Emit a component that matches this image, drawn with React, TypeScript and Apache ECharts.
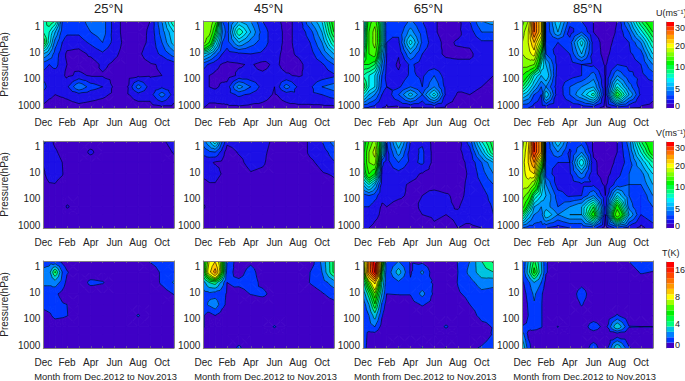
import React, { useEffect, useRef } from "react";
import * as echarts from "echarts";

const months = ["Dec","Jan","Feb","Mar","Apr","May","Jun","Jul","Aug","Sep","Oct","Nov"];
const columnsX = [0,0.5,1,1.6,2,3,4,5,6,7,8,9,10,11];
const pressures = [0.6,1.6,4,11,28,74,200,400,1300];
const pressureTicks = [1,10,100,1000];
const latitudes = ["25°N","45°N","65°N","85°N"];

const windEdges = [0,1,2,3,4,5,6,7,8,9,10,12,14,16,18,20,22,24,26,28,Infinity];
const windColors = ["#3f00c6","#1c10e6","#0038ff","#0068ff","#0098ff","#00c4ff","#00ecff","#00ffc0","#00ff80","#00ff40","#00f800","#40ff00","#80ff00","#c0ff00","#ffff00","#ffd000","#ffa000","#ff7000","#ff4000","#ff0000"];
const windBarLabels = ["0","","","","5","","","","","10","","","","","20","","","","30",""];
const tempEdges = [0,1,2,3,4,4.8,5.6,6.4,7.2,8,9.6,11.2,12.8,14.4,16,17.6,Infinity];
const tempColors = ["#3f00c6","#0038ff","#0080ff","#00c4e0","#00ff80","#00ff40","#00f000","#40ff00","#a0ff00","#ffff00","#ffc800","#ff9800","#ff7000","#ff4800","#ff2000","#ff0000"];
const tempBarLabels = ["0","","","","4","","","","","8","","","","","16",""];

const u25 = [[7,8,10,5,2.5,1.6,2.5,1.5,.8],[9,7,6.5,4,2,1.3,1.5,1.2,.6],[8,5,3.5,2.5,2.5,1.2,1.2,1,.6],[3,2.5,2,1.5,1.2,1.2,1.3,1.1,.6],[2.5,2.2,1.5,.8,1,.8,1.8,1.2,.6],[2.5,2.2,1.5,.6,.7,1.2,4,1.6,.7],[3.5,3,2.2,1.2,.5,.9,2.5,1.4,.6],[3.5,3.5,3,1.8,1.2,.9,2,1.2,.5],[1.5,1.5,1.6,1.2,.8,.7,.8,.8,.3],[.5,.5,.6,.6,.5,.6,.7,.8,.3],[.5,.5,.6,.8,.7,.8,3.5,1.6,.4],[1,1.2,1.2,1.5,.9,.9,1.5,1.5,.5],[4,3.5,3,2.2,1.1,1,1.8,3.5,.7],[8,6,5.5,3.5,1.5,1.2,1.5,1.5,.7]];
const u45 = [[16,15,15,6,2.5,1.3,1.5,2,1],[16,15,12,5,1.8,1,1,1.5,.7],[13,10,7,3.5,1.3,.8,.8,1.5,.7],[3,4,3,2,.9,.7,1.2,1.7,.7],[2.5,2.5,2.5,1.5,.8,.5,1.4,1.5,.8],[5,8,5,1.8,.9,1.2,4.5,2.2,.8],[4,5,3.5,2,1.1,1.2,3,1.8,.7],[2,2.5,2.5,1.8,.7,1.2,1.6,1.4,.7],[1.2,1.4,1.4,1.2,1.2,1.3,1,.9,.6],[.8,.8,.8,.8,.7,1.1,3.5,1.4,.7],[1.2,1.2,1.2,1.1,.8,.9,1.8,1.8,.7],[4,2.5,2,1.5,1.3,1.2,1.8,1.8,.7],[6,5,4,3,1.8,1.4,3,2,.7],[11,10,8,5,3,1.8,3.5,2.5,.7]];
const u65 = [[5,5.5,6,8,10,8,10,7,2],[11,12,12,12,10,7,7,5,1.8],[13,15,15,13,9,6,6,4,1.5],[7,7,7,5,4,3,2.5,2,1],[2,2,2,2,1.8,1.6,2,1.3,.9],[2,2.2,1.8,1.1,.8,1.2,1.8,3,.8],[3.2,4.5,6.5,4,2.2,2.2,3,5.5,.9],[2,2.5,2.8,2,1.5,1.8,2,3,.9],[1.1,1.1,1.3,1.2,1.4,3,4,6.5,1],[.7,.7,.8,.9,1.2,1.4,1.6,1.7,.8],[.7,.8,1.1,.8,1.2,1.2,1.2,.9,.7],[2,1.5,1.2,.8,1.2,1.1,1.1,1,.7],[4,3,1.8,1.5,1.2,1.1,1,.9,.7],[4.5,3,1.8,1.3,1.1,1,.9,.9,.7]];
const u85 = [[13,15,16,16,15,12,9,6,2],[16,18,18,17,15,10,7,5,2],[26,26,22,19,14,7,5,3,1.5],[20,20,15,9,7,5,3,2,1.5],[2,2,2,3,5,6,4,6,1.5],[6,5,2,1.5,1.6,1.4,1.3,1.2,1],[2.5,1.5,2.5,2,1.5,1.5,3,3,1],[2,3,6.5,5,2,2,4,5,1.2],[1,1,1.5,1.5,1.8,3.5,5,7.5,1.5],[.6,.5,.6,.7,.9,.9,.9,1,.5],[1,1.1,1.3,1.6,2,4,7,10,1.5],[4.5,3,2,1.8,1.7,2.2,3.5,5,1],[9,6.5,4,2.5,2,1.7,1.5,1.7,.9],[12,10,8,6,4,2.5,1.5,1.2,.8]];
const v25 = [[2.3,1.3,1.1,.8,.5,.3,.3,.3,.3],[1.5,1.5,1.5,1.5,.9,.3,.3,.3,.3],[.7,1.2,1.6,1.4,.95,.3,.3,.3,.3],[.3,.6,1,1.1,.5,.3,.3,.3,.3],[.3,.3,.3,.3,.3,.3,1.15,.3,.3],[.3,.3,.3,.3,.3,.3,.3,.3,.3],[.3,1.25,.3,.3,.3,.3,.3,.3,.3],[.3,.3,.3,.3,.3,.3,.3,.3,.3],[.3,.3,.3,.3,.3,.3,.3,.3,.3],[.3,.3,.3,.3,.3,.3,.3,.3,.3],[.3,.3,.3,.3,.3,.3,.3,.3,.3],[.3,.3,.3,.3,.3,.3,.3,.3,.3],[.8,.4,.3,.3,.3,.3,.3,.3,.3],[1.5,1.1,.6,.3,.3,.3,.3,.3,.3]];
const v45 = [[3.5,2.3,1.4,1.3,.6,.4,1.2,.6,.3],[5,2.8,1.2,1.4,.9,.4,.5,.3,.3],[7,3,.9,1.5,.9,.3,.3,.3,.3],[3,1.5,.8,.9,.3,.3,.3,.3,.3],[1.3,.5,.4,.3,.3,.3,.3,.3,.3],[1.5,1.1,.7,.3,.3,.3,.3,.3,.3],[1.6,1.4,1.4,.9,.3,.3,.3,.3,.3],[1.5,1.3,1.2,.7,.3,.3,.3,.3,.3],[.7,.5,.3,.3,.3,.3,.3,.3,.3],[.3,.3,.3,.3,.3,.3,.3,.3,.3],[.3,.3,.3,.3,.3,.3,.3,.3,.3],[1.2,1.2,.8,.4,.3,.3,.3,.3,.3],[2,1.5,1.3,.9,.5,.3,.3,.3,.3],[3.5,2.5,1.9,1.1,.8,.3,.3,.3,.3]];
const v65 = [[8,9,9,8,5,2.5,2,2,1.1],[12,14,14,12,7,3,2,1.8,1],[15,17,15,10,5,2.5,1.4,1.3,.7],[7,6,2.2,1.8,1.5,1.2,.9,.8,.5],[2,1.6,1.6,1.5,1.5,1.2,1,.8,.3],[6,4.5,3,1.6,1.2,1.1,.8,.7,.5],[2,1.5,1.7,1.3,.9,.9,.8,.8,.5],[1.8,2.2,2.2,.9,.8,1,1.1,1,.5],[.6,.6,.6,.6,.7,1.3,1.2,1.1,.9],[.5,.5,.5,.5,.6,1.1,1.1,1,.8],[.5,.7,.7,.7,.7,.8,.95,1.1,1],[2.5,1.6,1.2,1.1,1.2,1.2,1.3,1.2,.9],[7,5,3,2.5,2,1.5,1.5,1.4,1],[10,9,5,4,3,2.5,2.1,2,1.1]];
const v85 = [[15,16,17,17,17,15,13,9,3],[19,20,20,19,17,13,9,6,2.5],[28,28,24,20,14,8,5,4,2.5],[22,22,14,8,7,6,4,3.5,2.5],[2,2,2.2,2.5,4,5,4.5,6,2],[6,4,2,1.5,1.5,2.5,3,4,1.5],[2.5,1.8,2,1.8,1.5,1.8,4,5,2],[2.5,4,7,4,1.8,2,5,5,2],[.8,.8,1.2,1.2,1.8,4,9,11,2.5],[.5,.5,.5,.6,.8,1,1.4,1,.4],[1,1,1.2,1.6,2.5,6,11,14,2.5],[3.5,3,2.5,3,3,3,3.5,5,1.5],[9,7,5,3.5,3,2,2,2,.7],[12,11,8,6,5,4,3,2.8,1.5]];
const t25 = [[1.5,2.3,2.2,1.5,1.4,.5,.2,.2,.2],[1.5,2.6,2.2,1.5,1.5,.8,.2,.2,.2],[1,5,2.5,1.2,1.5,1.3,.3,.2,.2],[.7,2,1.6,.7,1.1,1.2,.2,.2,.2],[.3,1.1,.7,.3,1,1.05,.2,.2,.2],[.2,.2,.2,.2,.2,.2,.2,.2,.2],[.2,.2,1.3,.2,.2,.2,.2,.2,.2],[.2,.2,1.1,.2,.2,.2,.2,.2,.2],[.2,.2,.2,.2,.2,.2,.2,.2,.2],[.2,.2,.2,.2,.2,.2,.2,.2,.2],[.2,.2,.2,.2,.2,1.1,.2,.2,.2],[1.1,.3,.2,.2,.2,.2,.2,.2,.2],[1.5,1.2,1.2,.4,.2,.2,.2,.2,.2],[2,1.5,2.1,1.05,.4,.2,.2,.2,.2]];
const t45 = [[5,5,2.5,1.6,1.5,1.1,1.1,.5,.3],[8,9,4,1.7,2.2,.5,.3,.3,.3],[9.5,12,4.5,1.5,2.7,1,.3,.3,.2],[6,6,2.5,1.3,1.3,.5,.2,.2,.2],[2,1.5,1,.9,.8,.3,.2,.2,.2],[.3,.5,1.3,.5,.2,.2,.2,.2,1.2],[.7,1.5,1.5,1.05,.2,.2,.2,.2,.2],[.2,.3,.7,1.3,.2,.2,.2,.2,.2],[.2,.2,.2,.5,.2,.2,1.1,.2,.2],[.2,.2,.2,.2,.2,.2,.2,.2,.2],[.2,.2,.2,.2,.2,.2,.2,.2,.2],[.3,1,1.05,.5,.2,.2,.2,.2,.2],[2.2,2,1.5,.9,.5,.2,.2,.2,.2],[5,5,2.5,1.4,.7,.2,.2,.2,.2]];
const t65 = [[6,5,3.5,2.2,1.3,1,1.1,1.8,1.6],[13,13,7,4.5,3,2,1.6,.6,.5],[19,18,10,7,5.5,3.5,2,.6,.3],[7,5,4,3,1.8,1.1,.6,.2,.2],[1.05,1.2,1.2,1,.5,.3,.2,.2,.2],[2,3.5,1.8,1.05,.3,.2,.2,.2,1.05],[.9,.9,1.1,1.05,.6,.2,.2,.2,.2],[.7,2.2,1.3,2.3,1.1,.3,.2,.2,1.05],[.3,.3,.9,.8,.6,.2,.2,.2,.2],[.2,.2,.2,.2,.2,.2,1.15,.2,1.05],[1.05,1,1.05,.9,.6,.3,.2,.2,.2],[2,2.3,1.6,1.2,1,.7,.2,.2,.8],[4,3.6,2.5,1.7,1.3,1.2,.8,.5,1.1],[5,4,2.3,1.6,1.5,1.2,1.05,1.1,1.5]];
const t85 = [[1,1,.8,.5,.3,.3,1.05,2.5,4],[3,3.5,1.7,1.3,1.1,1,1.2,.8,1.5],[5,6,3,2.2,1.9,1.8,1.5,.3,.3],[3,3.2,2,1.2,1.1,1.1,1.1,.3,.2],[1.1,1.1,.6,.3,.3,.3,.4,.3,.2],[.2,.2,.2,.2,.2,.2,1.05,.2,.2],[.2,.2,.2,.2,.2,.2,.2,.2,.2],[.2,.2,.6,1.6,1.1,.2,.2,.2,.2],[.2,.2,.2,.2,.2,.2,1.7,.3,1.5],[.2,.2,.2,.2,.2,.2,.5,.2,.2],[.2,.2,.2,.2,.2,1.1,4,.3,4],[1.05,.2,.2,.2,.2,.2,1.05,.2,1.1],[2,1.15,.2,.2,.2,.2,1.02,.2,.2],[1.6,.95,.2,.2,.2,.2,1.02,.2,.2]];

const panelRows = [
  { panels: [u25,u45,u65,u85], edges: windEdges, colors: windColors, barLabels: windBarLabels, barTitle: "U(ms⁻¹)", barTitleLeft: 656 },
  { panels: [v25,v45,v65,v85], edges: windEdges, colors: windColors, barLabels: windBarLabels, barTitle: "V(ms⁻¹)", barTitleLeft: 656 },
  { panels: [t25,t45,t65,t85], edges: tempEdges, colors: tempColors, barLabels: tempBarLabels, barTitle: "T(K)", barTitleLeft: 662 },
];

const lefts = [43.3,203.3,363,522.3];
const tops = [21,141,261];
const panelW = 130.5;
const panelH = 87;
const axisGrey = "#808080";
const fontFamily = "Liberation Sans, Arial, sans-serif";
const logP = pressures.map((p) => Math.log10(p));
const yMin = logP[0];
const yMax = logP[logP.length - 1];

type Pt = [number, number, number];

function clip(poly: Pt[], level: number, keepAbove: boolean): Pt[] {
  const out: Pt[] = [];
  for (let i = 0; i < poly.length; i++) {
    const a = poly[i];
    const b = poly[(i + 1) % poly.length];
    const ain = keepAbove ? a[2] >= level : a[2] <= level;
    const bin = keepAbove ? b[2] >= level : b[2] <= level;
    if (ain) out.push(a);
    if (ain !== bin) {
      const t = (level - a[2]) / (b[2] - a[2]);
      out.push([a[0] + t * (b[0] - a[0]), a[1] + t * (b[1] - a[1]), level]);
    }
  }
  return out;
}

function cellTriangles(api: any): Pt[][] {
  const x0 = api.value(0), y0 = api.value(1), x1 = api.value(2), y1 = api.value(3);
  const tl = api.coord([x0, y0]), tr = api.coord([x1, y0]);
  const bl = api.coord([x0, y1]), br = api.coord([x1, y1]);
  const vtl = api.value(4), vtr = api.value(5), vbl = api.value(6), vbr = api.value(7);
  const a: Pt = [tl[0], tl[1], vtl];
  const b: Pt = [tr[0], tr[1], vtr];
  const c: Pt = [br[0], br[1], vbr];
  const d: Pt = [bl[0], bl[1], vbl];
  const m: Pt = [(tl[0] + br[0]) / 2, (tl[1] + br[1]) / 2, (vtl + vtr + vbl + vbr) / 4];
  return [[a, b, m], [b, c, m], [c, d, m], [d, a, m]];
}

function bandOf(edges: number[], v: number) {
  let k = 0;
  while (k < edges.length - 2 && v >= edges[k + 1]) k++;
  return k;
}

function fillItem(edges: number[], colors: string[]) {
  return (_: any, api: any) => {
    const children: any[] = [];
    const tris = cellTriangles(api);
    const corners = [api.value(4), api.value(5), api.value(6), api.value(7)].map((v: number) => bandOf(edges, v));
    if (corners.every((b: number) => b === corners[0])) {
      const color = colors[corners[0]];
      children.push({
        type: "polygon", silent: true,
        shape: { points: [tris[0][0], tris[0][1], tris[1][1], tris[2][1]].map((p) => [p[0], p[1]]) },
        style: { fill: color, stroke: color, lineWidth: 1 },
      });
      return { type: "group", silent: true, children };
    }
    tris.forEach((tri) => {
      for (let k = 0; k < colors.length; k++) {
        const lo = edges[k];
        const hi = edges[k + 1];
        const vals = tri.map((p) => p[2]);
        if (Math.max(...vals) < lo || Math.min(...vals) > hi) continue;
        let poly = clip(tri, lo, true);
        if (poly.length && hi !== Infinity) poly = clip(poly, hi, false);
        if (poly.length < 3) continue;
        children.push({
          type: "polygon",
          silent: true,
          shape: { points: poly.map((p) => [p[0], p[1]]) },
          style: { fill: colors[k], stroke: colors[k], lineWidth: 0.9 },
        });
      }
    });
    return { type: "group", silent: true, children };
  };
}

function lineItem(edges: number[]) {
  return (_: any, api: any) => {
    const children: any[] = [];
    cellTriangles(api).forEach((tri) => {
      for (let k = 1; k < edges.length - 1; k++) {
        const level = edges[k];
        const pts: number[][] = [];
        for (let i = 0; i < 3; i++) {
          const a = tri[i];
          const b = tri[(i + 1) % 3];
          if (a[2] < level !== b[2] < level) {
            const t = (level - a[2]) / (b[2] - a[2]);
            pts.push([a[0] + t * (b[0] - a[0]), a[1] + t * (b[1] - a[1])]);
          }
        }
        if (pts.length === 2) {
          children.push({
            type: "polyline",
            silent: true,
            shape: { points: pts },
            style: { stroke: "#000", lineWidth: 0.6, fill: "none" },
          });
        }
      }
    });
    return { type: "group", silent: true, children };
  };
}

function cells(columns: number[][]) {
  const out: number[][] = [];
  for (let i = 0; i < columnsX.length - 1; i++) {
    for (let j = 0; j < logP.length - 1; j++) {
      out.push([columnsX[i], logP[j], columnsX[i + 1], logP[j + 1], columns[i][j], columns[i + 1][j], columns[i][j + 1], columns[i + 1][j + 1]]);
    }
  }
  return out;
}

function buildOption() {
  const grid: any[] = [];
  const xAxis: any[] = [];
  const yAxis: any[] = [];
  const series: any[] = [];
  const title: any[] = [];
  const textStyle = { fontFamily, color: "#222", fontSize: 10 };

  panelRows.forEach((row, r) => {
    row.panels.forEach((columns, c) => {
      const gridIndex = grid.length;
      grid.push({ left: lefts[c], top: tops[r], width: panelW, height: panelH, show: false, outerBoundsMode: "none" });
      const xBase = {
        type: "value", gridIndex, min: 0, max: 11, interval: 1, z: 5,
        axisLine: { show: true, onZero: false, lineStyle: { color: axisGrey, width: 1 } },
        axisTick: { show: true, inside: true, length: 2, lineStyle: { color: axisGrey, width: 0.6 } },
        splitLine: { show: false },
      };
      const xMain = xAxis.length;
      xAxis.push({
        ...xBase, position: "bottom",
        axisLabel: { ...textStyle, margin: 9, showMinLabel: true, showMaxLabel: true, formatter: (v: number) => (v % 2 === 0 ? months[v] : "") },
        ...(r === 2 ? { name: "Month from Dec.2012 to Nov.2013", nameLocation: "middle", nameGap: 24, nameTextStyle: { ...textStyle, fontSize: 9.4, padding: [0, 6, 0, 0] } } : {}),
      });
      xAxis.push({ ...xBase, position: "top", axisLabel: { show: false } });
      const yBase = {
        type: "value", gridIndex, min: yMin, max: yMax, inverse: true, z: 5,
        axisLine: { show: true, onZero: false, lineStyle: { color: axisGrey, width: 1 } },
        splitLine: { show: false },
      };
      const yMain = yAxis.length;
      yAxis.push({
        ...yBase, position: "left",
        axisTick: { show: false },
        axisLabel: {
          ...textStyle, margin: 3,
          customValues: pressureTicks.map((p) => Math.log10(p)),
          formatter: (v: number) => String(Math.round(Math.pow(10, v))),
        },
        ...(c === 0 ? { name: "Pressure(hPa)", nameLocation: "middle", nameGap: 34, nameRotate: 90, nameTextStyle: textStyle } : {}),
      });
      yAxis.push({ ...yBase, position: "right", axisTick: { show: false }, axisLabel: { show: false } });
      const data = cells(columns);
      const common = {
        type: "custom", coordinateSystem: "cartesian2d", xAxisIndex: xMain, yAxisIndex: yMain,
        silent: true, clip: true, data, encode: { x: [0, 2], y: [1, 3] },
      };
      series.push({ ...common, z: 1, renderItem: fillItem(row.edges, row.colors) });
      series.push({ ...common, z: 2, renderItem: lineItem(row.edges) });
      if (r === 0) {
        title.push({
          text: latitudes[c], left: lefts[c] + panelW / 2, top: 2, padding: 0, textAlign: "center",
          textStyle: { fontFamily, fontSize: 13, fontWeight: "normal", color: "#222" },
        });
      }
    });

    const gridIndex = grid.length;
    grid.push({ left: 666, top: tops[r] + 1, width: 8, height: panelH - 1, show: false, outerBoundsMode: "none" });
    const xMain = xAxis.length;
    xAxis.push({ type: "value", gridIndex, min: 0, max: 1, show: false });
    const yMain = yAxis.length;
    yAxis.push({
      type: "category", gridIndex, position: "right", data: row.barLabels, z: 5,
      axisLine: { show: true, lineStyle: { color: axisGrey, width: 0.6 } },
      axisTick: { show: false },
      axisLabel: { ...textStyle, fontSize: 9, interval: 0, margin: 1 },
    });
    series.push({
      type: "bar", xAxisIndex: xMain, yAxisIndex: yMain, silent: true, barWidth: "100%",
      data: row.colors.map((color) => ({ value: 1, itemStyle: { color } })),
    });
    title.push({
      text: row.barTitle, left: row.barTitleLeft, top: tops[r] - 13, padding: 0,
      textStyle: { fontFamily, fontSize: 9, fontWeight: "normal", color: "#222" },
    });
  });

  return { animation: false, backgroundColor: "#fff", tooltip: { show: false }, grid, xAxis, yAxis, series, title };
}

export default function App() {
  const ref = useRef<HTMLDivElement>(null);
  useEffect(() => {
    document.body.style.margin = "0";
    const chart = echarts.init(ref.current!, null, { renderer: "svg" });
    chart.setOption(buildOption() as any);
    return () => chart.dispose();
  }, []);
  return <div ref={ref} style={{ width: 685, height: 381 }} />;
}
